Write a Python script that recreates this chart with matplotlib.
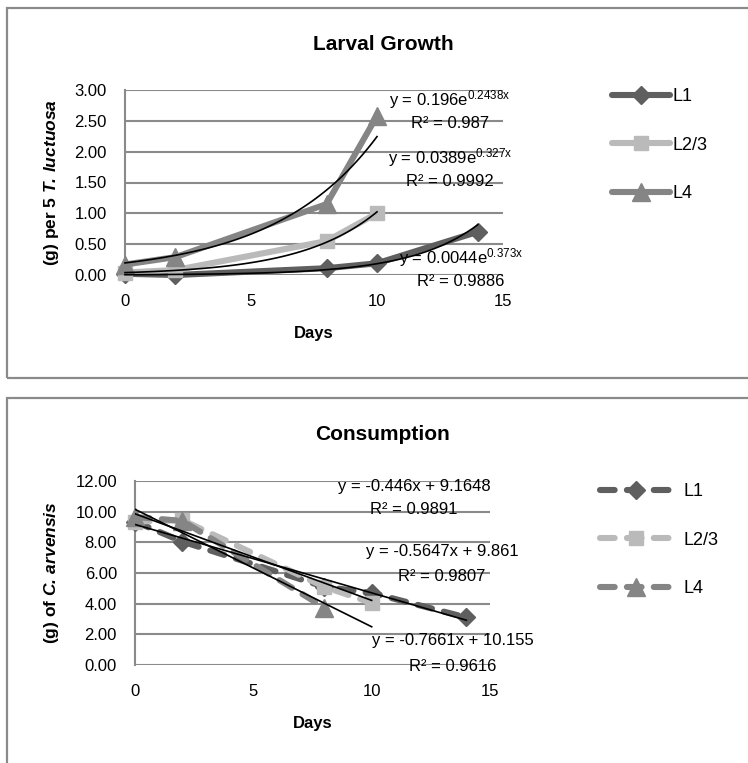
import numpy as np
import matplotlib.pyplot as plt
from matplotlib.patches import Rectangle

# --- data ---
days_l1 = [0, 2, 8, 10, 14]
days_l23 = [0, 2, 8, 10]
days_l4 = [0, 2, 8, 10]
days_l4_cons = [0, 2, 8]

growth_l1 = [0.02, 0.0, 0.11, 0.19, 0.70]
growth_l23 = [0.04, 0.08, 0.55, 1.00]
growth_l4 = [0.17, 0.29, 1.15, 2.58]

cons_l1 = [9.35, 8.05, 5.1, 4.7, 3.1]
cons_l23 = [9.35, 9.45, 5.1, 4.05]
cons_l4 = [9.65, 9.4, 3.75]

series = ["L1", "L2/3", "L4"]
colors = ["#5f5f5f", "#bababa", "#858585"]
markers = ["D", "s", "^"]
msizes = [9.5, 10.5, 12.5]

# trendline coefficients (as printed on the chart)
exp_a = [0.0044, 0.0389, 0.196]
exp_b = [0.373, 0.327, 0.2438]
exp_r2 = ["0.9886", "0.9992", "0.987"]
exp_end = [14, 10, 10]

lin_m = [-0.446, -0.5647, -0.7661]
lin_c = [9.1648, 9.861, 10.155]
lin_r2 = ["0.9891", "0.9807", "0.9616"]
lin_end = [14, 10, 10]

plt.rcParams["font.family"] = ["Liberation Sans", "DejaVu Sans"]
plt.rcParams["mathtext.fontset"] = "custom"
plt.rcParams["mathtext.rm"] = "Liberation Sans"
plt.rcParams["mathtext.it"] = "Liberation Sans:italic"
plt.rcParams["mathtext.bf"] = "Liberation Sans:bold"
plt.rcParams["mathtext.bfit"] = "Liberation Sans:italic:bold"

W, H = 748, 763
fig = plt.figure(figsize=(W / 100, H / 100), dpi=100)

def box(l, r, t, b):
    return [l / W, 1 - b / H, (r - l) / W, (b - t) / H]

GRID = "#8a8a8a"

def style_axes(ax, ymax, ystep, fmt):
    ax.set_xlim(0, 15)
    ax.set_ylim(0, ymax)
    ax.set_xticks([0, 5, 10, 15])
    ax.set_yticks(np.arange(0, ymax + ystep / 2, ystep))
    ax.set_yticklabels([fmt % v for v in np.arange(0, ymax + ystep / 2, ystep)])
    for s in ["top", "right", "bottom"]:
        ax.spines[s].set_visible(False)
    ax.spines["left"].set_color(GRID)
    ax.spines["left"].set_linewidth(1.5)
    ax.grid(axis="y", color=GRID, linewidth=1.5)
    ax.set_axisbelow(True)
    ax.tick_params(length=0, labelsize=12)
    ax.tick_params(axis="y", pad=13)
    ax.tick_params(axis="x", pad=14)
    for lb in ax.get_xticklabels() + ax.get_yticklabels():
        lb.set_clip_on(False)

# frames
fig.add_artist(Rectangle((7 / W, 1 - 378 / H), 760 / W, 370 / H,
                         transform=fig.transFigure, fill=False,
                         edgecolor=GRID, linewidth=1.6))
fig.add_artist(Rectangle((7 / W, 1 - 780 / H), 760 / W, 382 / H,
                         transform=fig.transFigure, fill=False,
                         edgecolor=GRID, linewidth=1.6))

# ---------- Larval Growth ----------
ax1 = fig.add_axes(box(125, 503, 90, 275))
style_axes(ax1, 3.0, 0.5, "%.2f")
grow = [(days_l1, growth_l1), (days_l23, growth_l23), (days_l4, growth_l4)]
handles = []
for i in range(3):
    x, y = grow[i]
    h, = ax1.plot(x, y, color=colors[i], lw=4.4, marker=markers[i],
                  ms=msizes[i], solid_capstyle="round",
                  label=series[i], clip_on=False, zorder=3)
    handles.append(h)
for i in range(3):
    xt = np.linspace(0, exp_end[i], 100)
    ax1.plot(xt, exp_a[i] * np.exp(exp_b[i] * xt), color="black", lw=1.2,
             zorder=4, clip_on=False)

lab_pos = [(13.33, 0.28, -0.11), (12.9, 1.91, 1.51), (12.9, 2.84, 2.45)]
for i in range(3):
    px, py, pr = lab_pos[i]
    ax1.text(px, py, r"y = %se$^{\mathrm{%sx}}$" % (exp_a[i], exp_b[i]),
             ha="center", va="center", fontsize=12, zorder=5)
    ax1.text(px, pr, "R² = %s" % exp_r2[i], ha="center", va="center",
             fontsize=12, zorder=5)

ax1.set_xlabel("Days", fontsize=12, fontweight="bold", labelpad=12)
ax1.set_ylabel(r"(g) per 5 $\mathbfit{T.\,luctuosa}$", fontsize=12.5,
               fontweight="bold", labelpad=10)
fig.text(383 / W, 1 - 44 / H, "Larval Growth", ha="center", va="center",
         fontsize=15, fontweight="bold")
fig.legend(handles=handles, loc="upper left",
           bbox_to_anchor=(612 / W, 1 - 88 / H), frameon=False,
           fontsize=13, handlelength=3.2, handletextpad=0.15,
           labelspacing=1.75, borderaxespad=0, borderpad=0)

# ---------- Consumption ----------
ax2 = fig.add_axes(box(135, 490, 481, 665))
style_axes(ax2, 12.0, 2.0, "%.2f")
cons = [(days_l1, cons_l1), (days_l23, cons_l23), (days_l4_cons, cons_l4)]
handles2 = []
for i in range(3):
    x, y = cons[i]
    h, = ax2.plot(x, y, color=colors[i], lw=4.4, ls=(0, (2.4, 2.0)),
                  dash_capstyle="round", marker=markers[i], ms=msizes[i],
                  label=series[i], clip_on=False, zorder=3)
    handles2.append(h)
for i in range(3):
    xt = np.array([0, lin_end[i]])
    ax2.plot(xt, lin_m[i] * xt + lin_c[i], color="black", lw=1.2, zorder=4)

lab_pos2 = [(11.79, 11.61, 10.11), (12.97, 7.37, 5.74), (13.43, 1.57, -0.07)]
for i in range(3):
    px, py, pr = lab_pos2[i]
    ax2.text(px, py, "y = %sx + %s" % (lin_m[i], lin_c[i]),
             ha="center", va="center", fontsize=12, zorder=5)
    ax2.text(px, pr, "R² = %s" % lin_r2[i], ha="center", va="center",
             fontsize=12, zorder=5)

ax2.set_xlabel("Days", fontsize=12, fontweight="bold", labelpad=12)
ax2.set_ylabel(r"(g) of $\mathbfit{C.\,arvensis}$", fontsize=12.5,
               fontweight="bold", labelpad=10)
fig.text(382 / W, 1 - 434 / H, "Consumption", ha="center", va="center",
         fontsize=15, fontweight="bold")
fig.legend(handles=handles2, loc="upper left",
           bbox_to_anchor=(600 / W, 1 - 483 / H), frameon=False,
           fontsize=13, handlelength=4.0, handletextpad=0.6,
           labelspacing=1.75, borderaxespad=0, borderpad=0)

fig.savefig("out.png", dpi=100)
